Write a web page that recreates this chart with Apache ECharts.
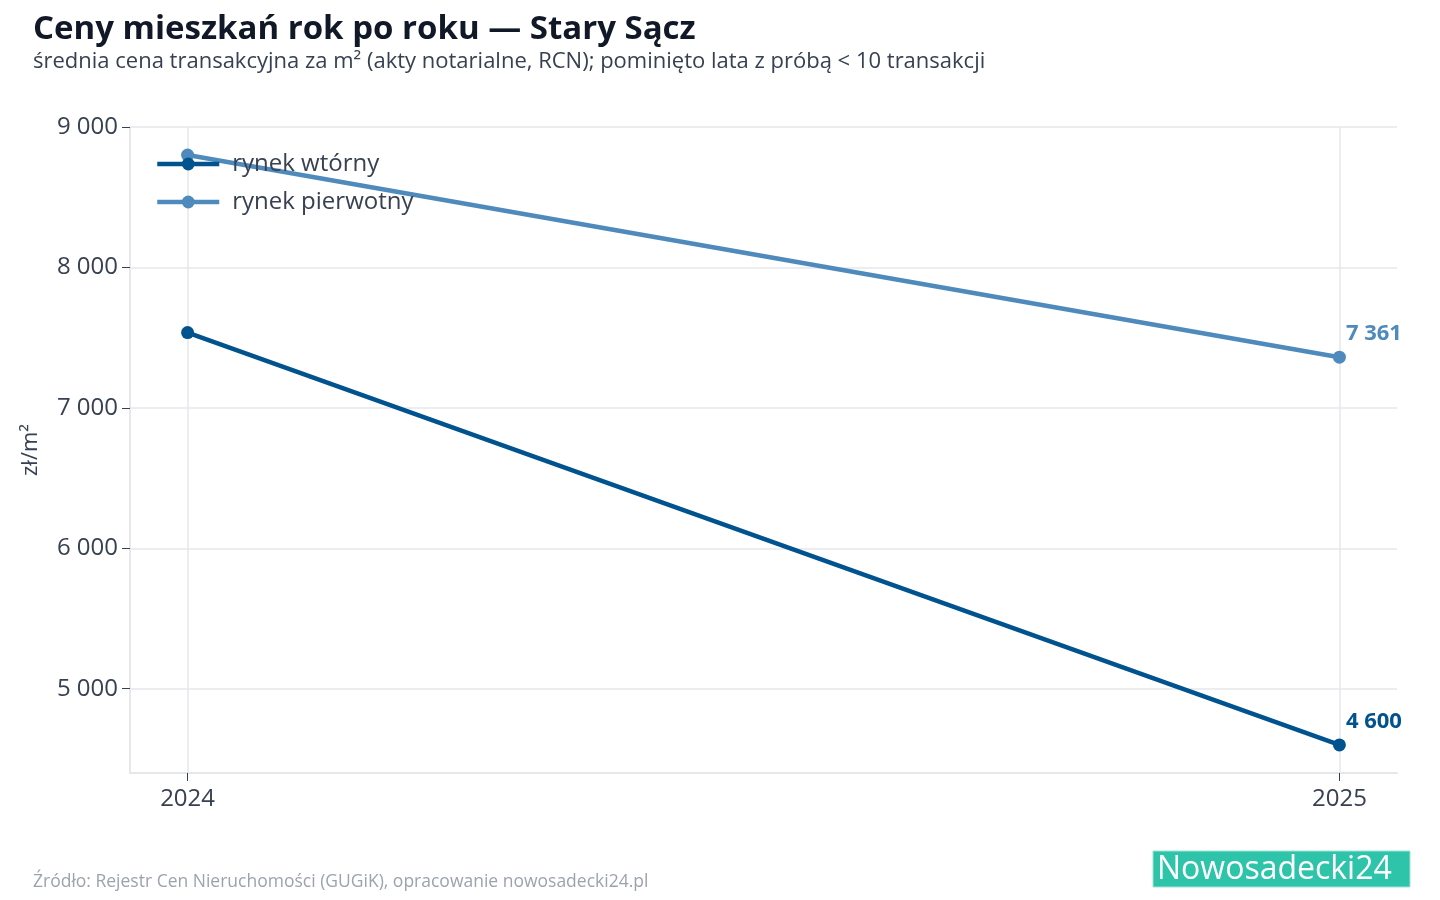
<!DOCTYPE html>
<html><head><meta charset="utf-8">
<script src="https://cdn.jsdelivr.net/npm/echarts@6/dist/echarts.min.js"></script>
<style>html,body{margin:0;padding:0;background:#fff}#c{width:1440px;height:900px}</style>
</head><body><div id="c"></div>
<script>
const years = [2024, 2025];
const wtorny = [7536, 4600];
const pierwotny = [8800, 7361];
const yTicks = [5000, 6000, 7000, 8000, 9000];
const F = '"Open Sans","Noto Sans",sans-serif';
const fmt = v => String(Math.round(v)).replace(/\B(?=(\d{3})+(?!\d))/g, ' ');
const chart = echarts.init(document.getElementById('c'));
function ser(name, data, color) {
  return {
    name, type: 'line', data: years.map((y, i) => [y, data[i]]),
    lineStyle: {color, width: 4.5}, itemStyle: {color}, symbol: 'circle', symbolSize: 13,
    label: {show: true, fontFamily: F, fontWeight: 'bold', fontSize: 22, color,
      position: [13, -28], formatter: p => p.dataIndex === years.length - 1 ? fmt(p.value[1]) : ''},
    z: 3
  };
}
chart.setOption({
  animation: false,
  title: [
    {text: 'Ceny mieszkań rok po roku — Stary Sącz', left: 28, top: 8,
      textStyle: {fontFamily: F, fontSize: 33, fontWeight: 'bold', color: '#111827'}},
    {text: 'średnia cena transakcyjna za m² (akty notarialne, RCN); pominięto lata z próbą < 10 transakcji', left: 28, top: 46,
      textStyle: {fontFamily: F, fontSize: 22, fontWeight: 'normal', color: '#374151'}},
    {text: 'Źródło: Rejestr Cen Nieruchomości (GUGiK), opracowanie nowosadecki24.pl', left: 28, top: 868,
      textStyle: {fontFamily: F, fontSize: 17.5, fontWeight: 'normal', color: '#9ca3af'}}
  ],
  legend: {left: 150, top: 147, orient: 'vertical', itemGap: 14, itemWidth: 62, itemHeight: 16,
    lineStyle: {width: 4.5},
    textStyle: {fontFamily: F, fontSize: 24, color: '#374151', padding: [0, 0, 0, 8]}},
  grid: {left: 130, right: 43, top: 127, bottom: 127},
  xAxis: {type: 'value', min: 2023.95, max: 2025.05,
    axisLine: {show: true, lineStyle: {color: '#e5e7eb', width: 2}},
    axisTick: {show: true, customValues: years, length: 8, lineStyle: {color: '#374151'}},
    axisLabel: {customValues: years, fontFamily: F, fontSize: 24, color: '#374151', margin: 14, formatter: v => String(v)},
    splitLine: {show: true, lineStyle: {color: '#e5e7eb', width: 1.5}}},
  yAxis: {type: 'value', min: 4400, max: 9000,
    name: 'zł/m²', nameLocation: 'middle', nameGap: 88, nameTextStyle: {fontFamily: F, fontSize: 22, color: '#374151'},
    axisLine: {show: true, lineStyle: {color: '#e5e7eb', width: 2}},
    axisTick: {show: true, customValues: yTicks, length: 8, lineStyle: {color: '#374151'}},
    axisLabel: {customValues: yTicks, fontFamily: F, fontSize: 24, color: '#374151', margin: 12, formatter: fmt},
    splitLine: {show: true, lineStyle: {color: '#e5e7eb', width: 1.5}}},
  series: [ser('rynek wtórny', wtorny, '#00538f'), ser('rynek pierwotny', pierwotny, '#4e8abb')],
  graphic: [
    {type: 'rect', shape: {x: 1153, y: 851, width: 257, height: 36}, style: {fill: '#2ec4aa', stroke: '#9fe3d6', lineWidth: 1}},
    {type: 'text', x: 1157, y: 870, style: {text: 'Nowosadecki24', fill: '#fff', font: '32px "Open Sans",sans-serif', textVerticalAlign: 'middle'}}
  ]
});
</script></body></html>
